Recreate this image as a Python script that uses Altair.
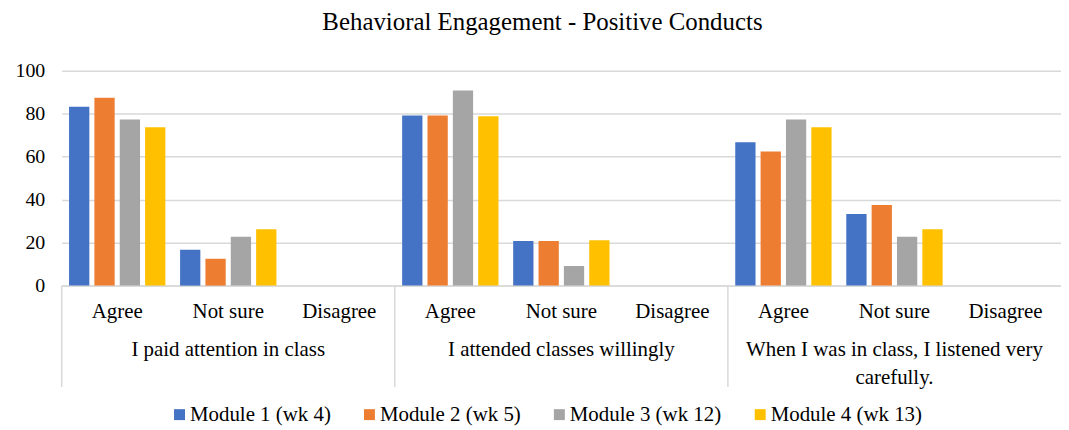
import altair as alt
import pandas as pd

groups = [
    "I paid attention in class",
    "I attended classes willingly",
    "When I was in class, I listened very\ncarefully.",
]
responses = ["Agree", "Not sure", "Disagree"]
series = ["Module 1 (wk 4)", "Module 2 (wk 5)", "Module 3 (wk 12)", "Module 4 (wk 13)"]
colors = ["#4472C4", "#ED7D31", "#A5A5A5", "#FFC000"]

m1 = [83.3, 16.7, 0, 79.2, 20.8, 0, 66.7, 33.3, 0]
m2 = [87.5, 12.5, 0, 79.2, 20.8, 0, 62.5, 37.5, 0]
m3 = [77.3, 22.7, 0, 90.9, 9.1, 0, 77.3, 22.7, 0]
m4 = [73.7, 26.3, 0, 78.9, 21.1, 0, 73.7, 26.3, 0]
values = [m1, m2, m3, m4]

cats = [f"{gi}|{r}" for gi in range(len(groups)) for r in responses]
rows = []
for si, s in enumerate(series):
    for ci, c in enumerate(cats):
        rows.append({"cat": c, "series": s, "value": values[si][ci]})
df = pd.DataFrame(rows)
gdf = pd.DataFrame({"group": groups})

W, H = 1005, 216
FONT = "'Liberation Serif', 'Times New Roman', Times, 'DejaVu Serif', serif"
GRID = "#d9d9d9"

bars = alt.Chart(df).mark_bar().encode(
    x=alt.X(
        "cat:N", sort=cats,
        scale=alt.Scale(paddingInner=0, paddingOuter=0),
        axis=alt.Axis(title=None, labelExpr="split(datum.label, '|')[1]", ticks=False,
                      domain=True, domainColor=GRID, domainWidth=1.5, labelAngle=0,
                      labelPadding=15, labelFontSize=21, labelFont=FONT,
                      labelColor="black", grid=False),
    ),
    xOffset=alt.XOffset("series:N", sort=series,
                        scale=alt.Scale(paddingInner=0.2, paddingOuter=0.29)),
    y=alt.Y(
        "value:Q", scale=alt.Scale(domain=[0, 100]),
        axis=alt.Axis(title=None, values=[0, 20, 40, 60, 80, 100], ticks=False,
                      domain=False, gridColor=GRID, gridWidth=1.5, labelPadding=17,
                      labelFontSize=20, labelFont=FONT, labelColor="black"),
    ),
    color=alt.Color(
        "series:N", sort=series,
        scale=alt.Scale(domain=series, range=colors),
        legend=alt.Legend(title=None, orient="none", direction="horizontal",
                          legendX=108, legendY=335, symbolType="square",
                          symbolSize=121, symbolStrokeWidth=0, labelFont=FONT,
                          labelFontSize=21, labelColor="black", labelOffset=0,
                          columnPadding=28, padding=0, labelLimit=300),
    ),
)

seps = alt.Chart(gdf).mark_rule(color=GRID, strokeWidth=1.5).encode(
    x=alt.X("group:N", sort=groups, bandPosition=0,
            scale=alt.Scale(paddingInner=0, paddingOuter=0), axis=None),
    y=alt.value(H),
    y2=alt.value(H + 102),
)

glabels = alt.Chart(gdf).mark_text(
    font=FONT, fontSize=21, baseline="alphabetic", lineBreak="\n",
    lineHeight=28, color="black",
).encode(
    x=alt.X("group:N", sort=groups,
            scale=alt.Scale(paddingInner=0, paddingOuter=0), axis=None),
    y=alt.value(287),
    text="group:N",
)

chart = alt.layer(bars, seps, glabels).resolve_scale(x="independent").properties(
    width=W, height=H,
    title=alt.TitleParams("Behavioral Engagement - Positive Conducts", font=FONT,
                          fontSize=25, fontWeight="normal", color="black",
                          anchor="middle", offset=26, dx=-19),
    padding={"left": 54, "top": 62, "right": 0, "bottom": 144},
    autosize=alt.AutoSizeParams(type="none"),
).configure_view(stroke=None)

chart.save("out.html", embed_options={"renderer": "svg", "actions": False})
